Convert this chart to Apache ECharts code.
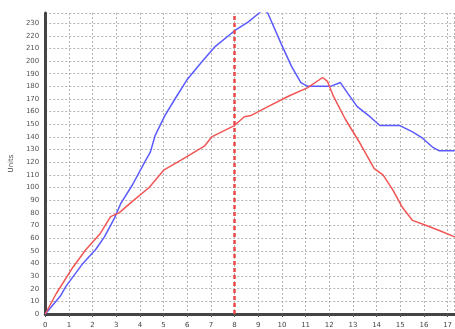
<!DOCTYPE html>
<html>
<head>
<meta charset="utf-8">
<script src="https://cdn.jsdelivr.net/npm/echarts@6/dist/echarts.min.js"></script>
<style>
  html, body { margin: 0; padding: 0; background: #fff; }
  #chart { width: 455px; height: 329px; }
</style>
</head>
<body>
<div id="chart"></div>
<script>
// values
const blueX = [0, 0.63, 0.88, 1.59, 2.13, 2.5, 2.93, 3.18, 3.68, 4.23, 4.44, 4.64, 5.06, 5.48, 5.98, 6.6, 7.15, 8.0, 8.58, 9.04, 9.2, 9.4, 9.96, 10.4, 10.8, 11.09, 12.05, 12.47, 12.76, 13.18, 13.72, 14.14, 14.98, 15.52, 15.94, 16.36, 16.65, 17.3];
const blueY = [0, 14, 22, 40, 51, 61, 76, 87, 102, 121, 128, 141, 157, 170, 185, 199, 211, 224, 231, 238, 241, 238, 214, 196, 183, 180, 180, 183, 175, 164, 156, 149, 149, 144, 139, 132, 129, 129];
const redX = [0, 0.46, 1.17, 1.72, 2.3, 2.76, 3.12, 3.68, 4.39, 5.02, 5.77, 6.74, 7.03, 7.99, 8.41, 8.7, 9.41, 10.25, 11.09, 11.72, 11.92, 12.18, 12.68, 13.3, 13.9, 14.27, 14.69, 15.1, 15.52, 16.1, 16.65, 17.3];
const redY = [0, 16, 37, 51, 63, 77, 80, 89, 100, 114, 122, 133, 140, 149, 156, 157, 164, 172, 179, 187, 184, 172, 154, 135, 115, 110, 98, 84, 74, 70, 66, 61];
const markerX = 8;

const pair = (xs, ys) => xs.map((x, i) => [x, ys[i]]);

const chart = echarts.init(document.getElementById('chart'), null, { renderer: 'canvas' });

const gridLine = { show: true, lineStyle: { color: '#b4b4b4', type: [2, 2], width: 1 } };

chart.setOption({
  animation: false,
  grid: { left: 42, right: 0, top: 13, bottom: 11, containLabel: false },
  xAxis: {
    type: 'value',
    min: 0,
    max: 17.3,
    interval: 1,
    axisLine: { lineStyle: { color: '#444', width: 3 } },
    axisTick: { show: true, length: 3, lineStyle: { color: '#555' } },
    axisLabel: { fontSize: 7, color: '#444', margin: 8, showMaxLabel: false, fontFamily: 'DejaVu Sans' },
    splitLine: gridLine
  },
  yAxis: {
    type: 'value',
    min: 0,
    max: 238,
    interval: 10,
    name: 'Units',
    nameLocation: 'middle',
    nameGap: 27,
    nameTextStyle: { fontSize: 7, color: '#444', fontFamily: 'DejaVu Sans' },
    axisLine: { show: true, lineStyle: { color: '#444', width: 3 } },
    axisTick: { show: false },
    axisLabel: { fontSize: 7, color: '#555', margin: 6, showMaxLabel: false, fontFamily: 'DejaVu Sans' },
    splitLine: gridLine
  },
  series: [
    {
      type: 'line',
      data: pair(blueX, blueY),
      showSymbol: false,
      lineStyle: { color: '#5a5aff', width: 1.5 },
      clip: true
    },
    {
      type: 'line',
      data: pair(redX, redY),
      showSymbol: false,
      lineStyle: { color: '#f25555', width: 1.5 },
      clip: true,
      markLine: {
        silent: true,
        symbol: 'none',
        label: { show: false },
        lineStyle: { color: '#e84848', type: [4, 3], width: 2.5 },
        data: [{ xAxis: markerX }]
      }
    }
  ]
});
</script>
</body>
</html>
